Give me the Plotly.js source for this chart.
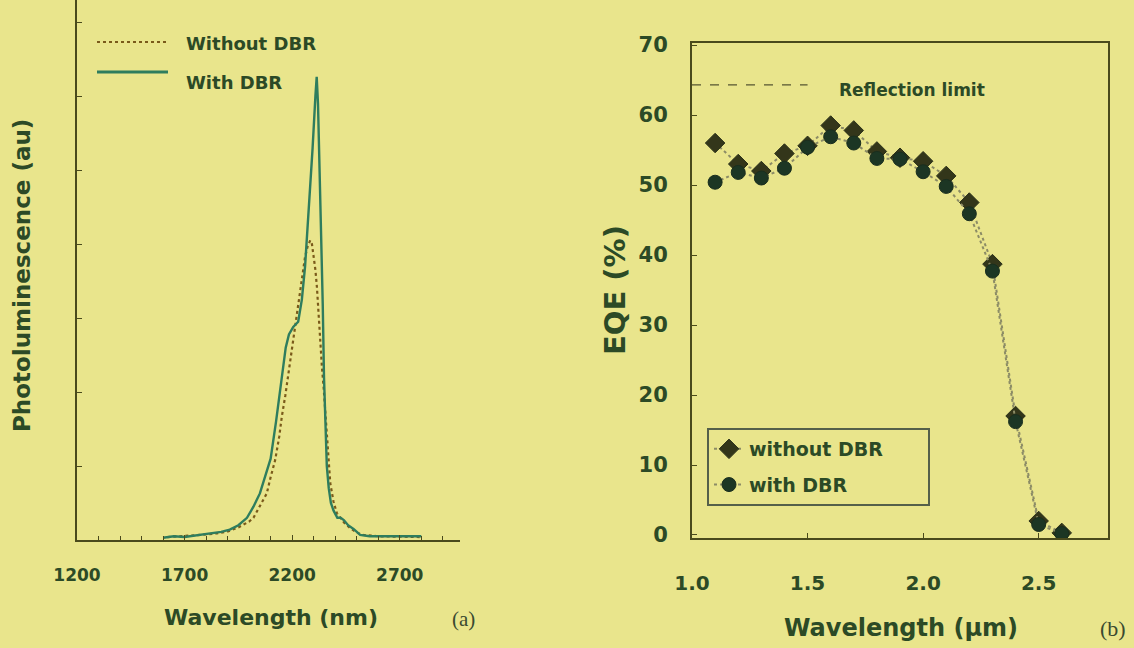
<!DOCTYPE html>
<html>
<head>
<meta charset="utf-8">
<script src="https://cdn.plot.ly/plotly-3.0.1.min.js"></script>
<style>
html,body{margin:0;padding:0;background:#e9e58c;}
#chart{width:1134px;height:648px;}
</style>
</head>
<body>
<div id="chart"></div>
<script>
// ---- Panel (a): photoluminescence spectra ----
const plWavelengthWith = [1600,1650,1700,1750,1820,1870,1910,1950,1990,2020,2050,2075,2100,2125,2150,2170,2185,2205,2228,2245,2260,2276,2295,2308,2314,2320,2328,2336,2342,2348,2354,2361,2370,2380,2392,2410,2425,2440,2460,2485,2516,2560,2620,2700,2760,2800];
const plIntensityWith  = [0.03,0.05,0.04,0.06,0.09,0.11,0.14,0.2,0.3,0.45,0.63,0.85,1.1,1.6,2.2,2.6,2.78,2.88,2.95,3.25,3.7,4.37,5.3,6.0,6.26,5.9,4.9,4.3,3.2,2.2,1.6,1.0,0.7,0.5,0.4,0.3,0.3,0.27,0.2,0.15,0.07,0.05,0.05,0.05,0.06,0.05];

const plWavelengthWithout = [1620,1700,1780,1850,1896,1950,2000,2020,2050,2082,2100,2121,2140,2152,2168,2183,2195,2206,2220,2237,2250,2260,2272,2284,2292,2300,2308,2315,2322,2330,2338,2346,2354,2361,2370,2377,2392,2408,2440,2470,2500,2530,2600,2700,2795];
const plIntensityWithout  = [0.04,0.05,0.07,0.09,0.11,0.17,0.25,0.3,0.45,0.63,0.85,1.08,1.4,1.67,1.95,2.25,2.5,2.7,3.0,3.33,3.6,3.83,3.97,4.05,4.0,3.85,3.65,3.42,3.05,2.7,2.35,2.07,1.75,1.44,1.1,0.77,0.52,0.36,0.24,0.16,0.1,0.07,0.05,0.05,0.04];

const plTickVals  = [1200,1700,2200,2700];
const plTickText  = ['1200','1700','2200','2700'];
const plSeriesNames = ['Without DBR','With DBR'];

// ---- Panel (b): EQE ----
const eqeWavelength = [1.1,1.2,1.3,1.4,1.5,1.6,1.7,1.8,1.9,2.0,2.1,2.2,2.3,2.4,2.5,2.6];
const eqeWithout    = [56.0,53.0,52.0,54.5,55.6,58.5,57.8,54.8,53.9,53.4,51.3,47.5,38.7,17.0,2.0,0.3];
const eqeWith       = [50.4,51.8,51.0,52.4,55.4,56.9,56.0,53.8,53.7,51.9,49.8,45.9,37.7,16.2,1.5,0.2];
const eqeSeriesNames = ['without DBR','with DBR'];
const reflectionLimit = 64.3;
const reflectionLimitRange = [1.0, 1.5];
const eqeTickVals = [1.0,1.5,2.0,2.5];
const eqeYTickVals = [0,10,20,30,40,50,60,70];

const W = 1134, H = 648;
const px = v => v / W;
const py = v => 1 - v / H;

const textColor = '#2c4a26';
const axisColor = '#4a4a1c';
const fam = '"DejaVu Sans", Verdana, sans-serif';
const bold = {family:fam, weight:'bold', color:textColor};
const f = s => Object.assign({size:s}, bold);
const legendPad = '\u00a0'.repeat(6);

const traces = [
  {x: plWavelengthWithout, y: plIntensityWithout, type:'scatter', mode:'lines', name: plSeriesNames[0],
   line:{color:'#7a5a1a', width:2.2, dash:'dot'}, xaxis:'x', yaxis:'y', showlegend:false},
  {x: plWavelengthWith, y: plIntensityWith, type:'scatter', mode:'lines', name: plSeriesNames[1],
   line:{color:'#2e7d5e', width:2.4}, xaxis:'x', yaxis:'y', showlegend:false},
  {x: eqeWavelength, y: eqeWithout, type:'scatter', mode:'lines+markers', name: eqeSeriesNames[0] + legendPad,
   line:{color:'#8c8c66', width:2, dash:'dot'},
   marker:{symbol:'diamond', size:15, color:'#33361a', line:{color:'#2a3018', width:1}},
   xaxis:'x2', yaxis:'y2', legend:'legend2', legendgroup:'a'},
  {x: eqeWavelength, y: eqeWith, type:'scatter', mode:'lines+markers', name: eqeSeriesNames[1],
   line:{color:'#8c8c66', width:2, dash:'dot'},
   marker:{symbol:'circle', size:14, color:'#1c3624', line:{color:'#1a2e1e', width:1}},
   xaxis:'x2', yaxis:'y2', legend:'legend2', legendgroup:'b'},
  {x: reflectionLimitRange, y: [reflectionLimit, reflectionLimit], type:'scatter', mode:'lines',
   line:{color:'#555530', width:1.2, dash:'dash'}, xaxis:'x2', yaxis:'y2', showlegend:false, hoverinfo:'skip'}
];

const layout = {
  width: W, height: H,
  paper_bgcolor:'#e9e58c', plot_bgcolor:'rgba(0,0,0,0)',
  margin:{l:0,r:0,t:0,b:0},
  showlegend:true,
  xaxis:{domain:[px(77), px(460)], range:[1200, 2980], anchor:'y',
    tickvals: plTickVals, ticktext: plTickText, ticks:'inside', ticklen:5, tickcolor:axisColor,
    minor:{dtick:100, ticks:'inside', ticklen:4, tickcolor:axisColor},
    showline:true, linecolor:axisColor, linewidth:2, showgrid:false, zeroline:false,
    tickfont:f(17), ticklabelstandoff:19},
  yaxis:{domain:[py(540), 1], range:[0, 7.3], anchor:'x', dtick:1, showticklabels:false,
    ticks:'inside', ticklen:5, tickcolor:axisColor,
    showline:true, linecolor:axisColor, linewidth:2, showgrid:false, zeroline:false},
  xaxis2:{domain:[px(692), px(1108)], range:[1.0, 2.8], anchor:'y2',
    tickvals: eqeTickVals, tickformat:'.1f', ticks:'inside', ticklen:5, tickcolor:axisColor,
    showline:true, mirror:true, linecolor:axisColor, linewidth:2, showgrid:false, zeroline:false,
    tickfont:f(20), ticklabelstandoff:26},
  yaxis2:{domain:[py(538), py(43)], range:[-0.43, 70.29], anchor:'x2',
    tickvals: eqeYTickVals, ticks:'inside', ticklen:5, tickcolor:axisColor,
    showline:true, mirror:true, linecolor:axisColor, linewidth:2, showgrid:false, zeroline:false,
    tickfont:f(21), ticklabelstandoff:18},
  legend2:{x:px(707), y:py(428), xanchor:'left', yanchor:'top', bgcolor:'rgba(0,0,0,0)',
    bordercolor:'#55604a', borderwidth:2, font:f(19),
    itemwidth:30, tracegroupgap:8},
  shapes:[
    {type:'line', xref:'paper', yref:'paper', x0:px(97), x1:px(168), y0:py(42), y1:py(42),
     line:{color:'#7a5a1a', width:2.2, dash:'dot'}},
    {type:'line', xref:'paper', yref:'paper', x0:px(97), x1:px(168), y0:py(72), y1:py(72),
     line:{color:'#2e7d5e', width:3}}
  ],
  annotations:[
    {xref:'paper', yref:'paper', x:px(184), y:py(44), xanchor:'left', yanchor:'middle', showarrow:false,
     text: plSeriesNames[0], font:f(18)},
    {xref:'paper', yref:'paper', x:px(184), y:py(82), xanchor:'left', yanchor:'middle', showarrow:false,
     text: plSeriesNames[1], font:f(18)},
    {xref:'paper', yref:'paper', x:px(22), y:py(276), xanchor:'center', yanchor:'middle', showarrow:false,
     textangle:-90, text:'Photoluminescence (au)', font:f(23)},
    {xref:'paper', yref:'paper', x:px(271), y:py(617), xanchor:'center', yanchor:'middle', showarrow:false,
     text:'Wavelength (nm)', font:f(22)},
    {xref:'paper', yref:'paper', x:px(463), y:py(619), xanchor:'center', yanchor:'middle', showarrow:false,
     text:'(a)', font:{family:'"Liberation Serif", "DejaVu Serif", serif', size:21, color:'#3a4a30'}},
    {xref:'paper', yref:'paper', x:px(912), y:py(90), xanchor:'center', yanchor:'middle', showarrow:false,
     text:'Reflection limit', font:f(17)},
    {xref:'paper', yref:'paper', x:px(615), y:py(290), xanchor:'center', yanchor:'middle', showarrow:false,
     textangle:-90, text:'EQE (%)', font:f(29)},
    {xref:'paper', yref:'paper', x:px(901), y:py(628), xanchor:'center', yanchor:'middle', showarrow:false,
     text:'Wavelength (µm)', font:f(24)},
    {xref:'paper', yref:'paper', x:px(1113), y:py(628), xanchor:'center', yanchor:'middle', showarrow:false,
     text:'(b)', font:{family:'"Liberation Serif", "DejaVu Serif", serif', size:22, color:'#3a4a30'}}
  ]
};

Plotly.newPlot('chart', traces, layout, {displayModeBar:false, staticPlot:true});
</script>
</body>
</html>
